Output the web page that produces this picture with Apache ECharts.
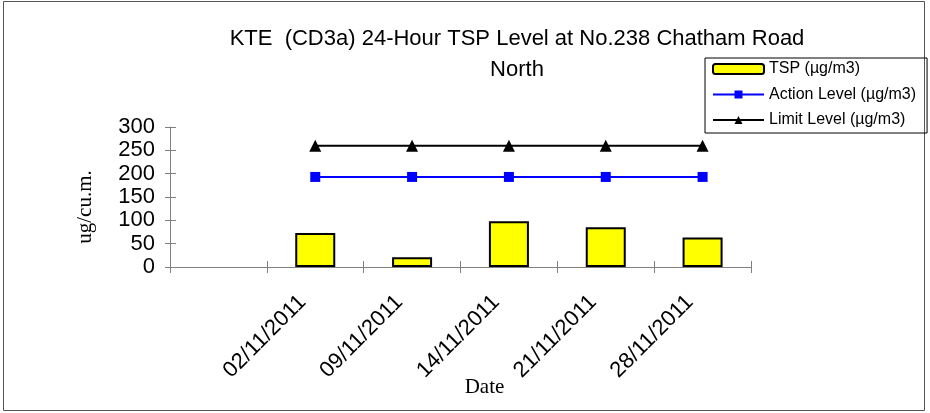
<!DOCTYPE html>
<html>
<head>
<meta charset="utf-8">
<script src="https://cdn.jsdelivr.net/npm/echarts@6/dist/echarts.min.js"></script>
<style>html,body{margin:0;padding:0;background:#fff;}#c{width:930px;height:413px;}</style>
</head>
<body>
<div id="c"></div>
<script>
const categories = ["", "02/11/2011", "09/11/2011", "14/11/2011", "21/11/2011", "28/11/2011"];
const tspValues = [null, 73, 21, 98, 85, 63];
const actionLevel = [null, 193, 193, 193, 193, 193];
const limitLevel = [null, 260, 260, 260, 260, 260];
const yTicks = [0, 50, 100, 150, 200, 250, 300];

const chart = echarts.init(document.getElementById('c'), null, {renderer: 'canvas'});
const axisColor = '#808080';
const sans = 'Liberation Sans, Arial, sans-serif';
const serif = 'Liberation Serif, Times New Roman, serif';

chart.setOption({
  animation: false,
  backgroundColor: '#fff',
  title: {
    text: 'KTE  (CD3a) 24-Hour TSP Level at No.238 Chatham Road\nNorth',
    left: 512, top: 18, textAlign: 'center',
    textStyle: {fontFamily: sans, fontSize: 22, fontWeight: 'normal', color: '#000', lineHeight: 31}
  },
  legend: {
    orient: 'vertical', left: 705, top: 58,
    padding: [3, 11, 5, 7],
    borderColor: '#000', borderWidth: 1,
    itemWidth: 51, itemHeight: 10, itemGap: 9.5,
    textStyle: {fontFamily: sans, fontSize: 16, color: '#000'},
    data: ['TSP (µg/m3)', 'Action Level (µg/m3)', 'Limit Level (µg/m3)']
  },
  grid: {left: 170, right: 179, top: 127, bottom: 146, containLabel: false},
  xAxis: [{
    type: 'category', data: categories, boundaryGap: true,
    axisLine: {lineStyle: {color: axisColor, width: 1}},
    axisTick: {show: true, length: 6, lineStyle: {color: axisColor}},
    axisLabel: {rotate: 45, fontSize: 22, fontFamily: sans, color: '#000', margin: 19, interval: 0, padding: [0, 18, 0, 0]},
    name: 'Date', nameLocation: 'middle', nameGap: 110, nameMoveOverlap: false,
    nameTextStyle: {fontFamily: serif, fontSize: 21, color: '#000', padding: [0, 0, 0, 48]}
  }, {
    type: 'category', data: categories, boundaryGap: true, position: 'bottom',
    axisLine: {show: false},
    axisTick: {show: true, inside: true, length: 6, lineStyle: {color: axisColor}},
    axisLabel: {show: false}
  }],
  yAxis: [{
    type: 'value', min: yTicks[0], max: yTicks[yTicks.length - 1], interval: 50,
    axisLine: {show: true, lineStyle: {color: axisColor, width: 1}},
    axisTick: {show: true, length: 5, lineStyle: {color: axisColor}},
    splitLine: {show: false},
    axisLabel: {fontSize: 22, fontFamily: sans, color: '#000', margin: 15},
    name: 'ug/cu.m.', nameLocation: 'middle', nameGap: 74, nameRotate: 90, nameMoveOverlap: false,
    nameTextStyle: {fontFamily: serif, fontSize: 21, color: '#000', padding: [0, 20, 0, 0]}
  }, {
    type: 'value', min: yTicks[0], max: yTicks[yTicks.length - 1], interval: 50, position: 'left',
    axisLine: {show: false},
    axisTick: {show: true, inside: true, length: 6, lineStyle: {color: axisColor}},
    splitLine: {show: false},
    axisLabel: {show: false}
  }],
  series: [{
    name: 'TSP (µg/m3)', type: 'bar', data: tspValues, barWidth: 40,
    itemStyle: {color: '#FFFF00', borderColor: '#000', borderWidth: 2}
  }, {
    name: 'Action Level (µg/m3)', type: 'line', data: actionLevel,
    symbol: 'rect', symbolSize: 10, showAllSymbol: true,
    lineStyle: {color: '#0000FF', width: 2},
    itemStyle: {color: '#0000FF'}
  }, {
    name: 'Limit Level (µg/m3)', type: 'line', data: limitLevel,
    symbol: 'triangle', symbolSize: 12, showAllSymbol: true,
    lineStyle: {color: '#000', width: 2},
    itemStyle: {color: '#000'}
  }],
  graphic: [{
    type: 'rect', silent: true, z: -1,
    shape: {x: 3.5, y: 1.5, width: 921, height: 409},
    style: {fill: 'none', stroke: '#555', lineWidth: 1}
  }]
});
</script>
</body>
</html>
